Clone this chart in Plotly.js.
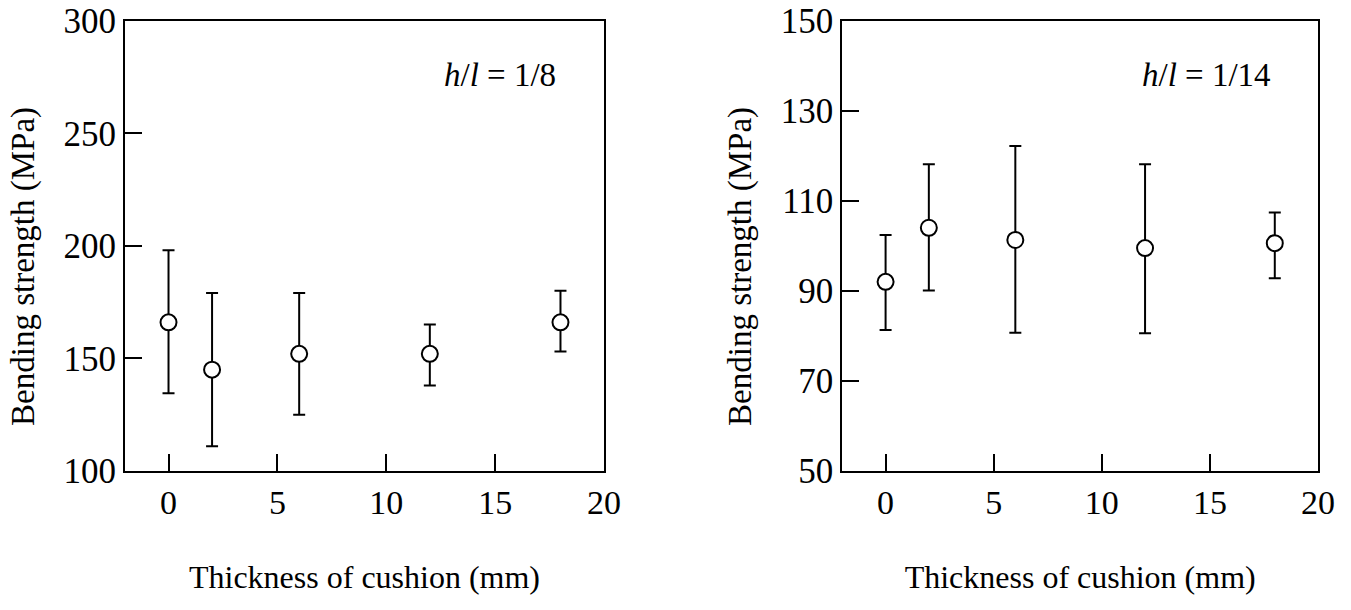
<!DOCTYPE html>
<html>
<head>
<meta charset="utf-8">
<script src="https://cdn.plot.ly/plotly-3.0.1.min.js"></script>
<style>html,body{margin:0;padding:0;background:#fff;}#chart{width:1351px;height:610px;}</style>
</head>
<body>
<div id="chart"></div>
<script>
// Thickness of cushion (mm)
const thickness = [0, 2, 6, 12, 18];
// h/l = 1/8 panel (MPa)
const meanA  = [166, 145, 152, 152, 166];
const upperA = [198, 179, 179, 165, 180];
const lowerA = [134.5, 111, 125, 138, 153];
// h/l = 1/14 panel (MPa)
const meanB  = [92, 104, 101.3, 99.5, 100.6];
const upperB = [102.4, 118.1, 122.2, 118.1, 107.4];
const lowerB = [81.3, 90.1, 80.7, 80.6, 92.8];
const xTicks = [0, 5, 10, 15, 20];
const yTicksA = [100, 150, 200, 250, 300];
const yTicksB = [50, 70, 90, 110, 130, 150];
const labelA = '<i>h</i>/<i>l</i> = 1/8';
const labelB = '<i>h</i>/<i>l</i> = 1/14';

const FONT = 'Liberation Serif, Times New Roman, serif';

function trace(mean, up, lo, xa, ya) {
  return {
    x: thickness, y: mean, xaxis: xa, yaxis: ya,
    type: 'scatter', mode: 'markers',
    marker: {symbol: 'circle', size: 16, color: '#fff', line: {color: '#000', width: 2}},
    error_y: {
      type: 'data', symmetric: false,
      array: up.map((v, i) => v - mean[i]),
      arrayminus: mean.map((v, i) => v - lo[i]),
      color: '#000', thickness: 2, width: 6
    },
    showlegend: false, hoverinfo: 'x+y'
  };
}

const xCommon = {
  range: [-2, 20], tickvals: xTicks, ticks: 'inside', ticklen: 17, tickwidth: 2, tickcolor: '#000',
  showline: true, linecolor: '#000', linewidth: 2, mirror: true, showgrid: false, zeroline: false,
  tickfont: {family: FONT, size: 34, color: '#000'},
  title: {text: 'Thickness of cushion (mm)', font: {family: FONT, size: 32, color: '#000'}, standoff: 46}
};
const yCommon = {
  ticks: 'inside', ticklen: 17, tickwidth: 2, tickcolor: '#000',
  showline: true, linecolor: '#000', linewidth: 2, mirror: true, showgrid: false, zeroline: false,
  tickfont: {family: FONT, size: 35, color: '#000'},
  title: {text: 'Bending strength (MPa)&nbsp;&nbsp;&nbsp;&nbsp;&nbsp;', font: {family: FONT, size: 33, color: '#000'}, standoff: 19},
  domain: [0.228, 0.966]
};

const layout = {
  width: 1351, height: 610,
  margin: {l: 0, r: 0, t: 0, b: 0},
  paper_bgcolor: '#fff', plot_bgcolor: '#fff',
  font: {family: FONT, color: '#000'},
  xaxis: Object.assign({}, xCommon, {domain: [0.0925, 0.4471], anchor: 'y'}),
  yaxis: Object.assign({}, yCommon, {range: [100, 300], tickvals: yTicksA, anchor: 'x'}),
  xaxis2: Object.assign({}, xCommon, {domain: [0.6235, 0.9756], anchor: 'y2'}),
  yaxis2: Object.assign({}, yCommon, {range: [50, 150], tickvals: yTicksB, anchor: 'x2'}),
  annotations: [
    {x: 17.9, y: 276, xref: 'x', yref: 'y', text: labelA, showarrow: false, xanchor: 'right', yanchor: 'middle', font: {family: FONT, size: 33, color: '#000'}},
    {x: 17.9, y: 138, xref: 'x2', yref: 'y2', text: labelB, showarrow: false, xanchor: 'right', yanchor: 'middle', font: {family: FONT, size: 33, color: '#000'}}
  ]
};

Plotly.newPlot('chart', [
  trace(meanA, upperA, lowerA, 'x', 'y'),
  trace(meanB, upperB, lowerB, 'x2', 'y2')
], layout, {displayModeBar: false, staticPlot: true});
</script>
</body>
</html>
